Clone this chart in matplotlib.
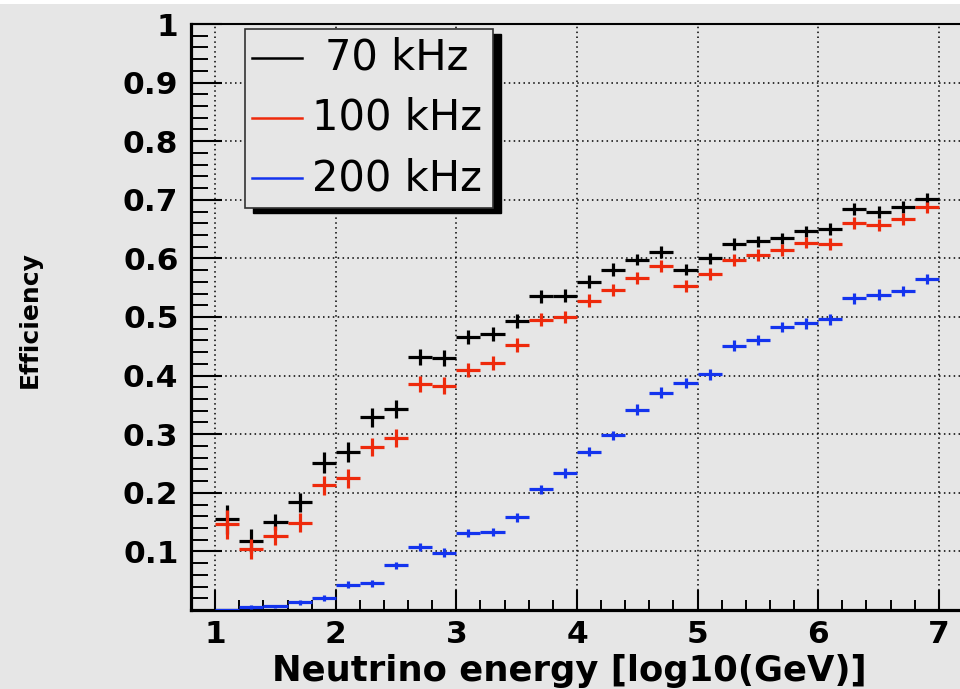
import numpy as np
import matplotlib
matplotlib.use("Agg")
import matplotlib.pyplot as plt
from matplotlib.patches import Rectangle
from matplotlib.lines import Line2D

# bin centres in log10(E/GeV), bins are 0.2 wide
energy = np.arange(1.1, 7.0, 0.2)
bin_half = 0.1

eff_70 = [0.155, 0.118, 0.150, 0.184, 0.251, 0.270, 0.329, 0.343, 0.432, 0.430,
          0.466, 0.471, 0.493, 0.535, 0.536, 0.560, 0.581, 0.598, 0.611, 0.581,
          0.600, 0.625, 0.629, 0.634, 0.646, 0.650, 0.684, 0.679, 0.688, 0.701]
err_70 = [0.025, 0.020, 0.014, 0.016, 0.018, 0.017, 0.016, 0.016, 0.014, 0.014,
          0.012, 0.012, 0.012, 0.011, 0.011, 0.011, 0.011, 0.010, 0.010, 0.010,
          0.010, 0.010, 0.010, 0.010, 0.010, 0.010, 0.010, 0.010, 0.010, 0.010]

eff_100 = [0.146, 0.104, 0.127, 0.149, 0.213, 0.225, 0.278, 0.294, 0.386, 0.383,
           0.410, 0.421, 0.452, 0.495, 0.500, 0.528, 0.546, 0.567, 0.587, 0.553,
           0.573, 0.597, 0.606, 0.614, 0.627, 0.624, 0.660, 0.657, 0.667, 0.687]
err_100 = [0.024, 0.017, 0.016, 0.016, 0.016, 0.016, 0.015, 0.015, 0.014, 0.014,
           0.012, 0.012, 0.012, 0.011, 0.011, 0.011, 0.011, 0.010, 0.010, 0.010,
           0.010, 0.010, 0.010, 0.010, 0.010, 0.010, 0.010, 0.010, 0.010, 0.010]

eff_200 = [0.000, 0.005, 0.006, 0.013, 0.020, 0.043, 0.046, 0.076, 0.108, 0.098,
           0.131, 0.133, 0.158, 0.206, 0.234, 0.270, 0.298, 0.342, 0.371, 0.387,
           0.402, 0.451, 0.461, 0.483, 0.489, 0.496, 0.532, 0.538, 0.544, 0.565]
err_200 = [0.000, 0.003, 0.003, 0.004, 0.005, 0.006, 0.006, 0.006, 0.007, 0.007,
           0.007, 0.007, 0.007, 0.008, 0.008, 0.008, 0.008, 0.009, 0.009, 0.009,
           0.009, 0.009, 0.009, 0.009, 0.009, 0.009, 0.009, 0.009, 0.009, 0.009]

series = [("70 kHz", eff_70, err_70, "black"),
          ("100 kHz", eff_100, err_100, "#ee2a0c"),
          ("200 kHz", eff_200, err_200, "#1434ee")]

bg = "#e6e6e6"
W, H = 960, 689


def fig_xy(px, py):
    # pixel position (from top left) -> figure fraction
    return px / W, 1 - py / H


fig = plt.figure(figsize=(9.6, 6.89), dpi=100, facecolor=bg)
ax = fig.add_axes([191 / W, 79 / H, (963 - 191) / W, 586 / H])
ax.set_facecolor(bg)

for label, eff, err, color in series:
    ax.errorbar(energy, eff, xerr=bin_half, yerr=err, fmt="none",
                ecolor=color, elinewidth=2.3, capsize=0, zorder=3)

ax.set_xlim(0.8, 7.2)
ax.set_ylim(0, 1)
ax.set_xticks(np.arange(1, 8, 1))
ax.set_xticks(np.arange(0.8, 7.21, 0.2), minor=True)
ax.set_yticks(np.arange(0.1, 1.01, 0.1))
ax.set_yticks(np.arange(0.0, 1.001, 0.02), minor=True)
ax.set_xticklabels([str(i) for i in range(1, 8)])
ax.set_yticklabels(["0.1", "0.2", "0.3", "0.4", "0.5", "0.6", "0.7", "0.8", "0.9", "1"])

ax.tick_params(axis="both", which="both", direction="in", color="black",
               top=False, right=False)
ax.tick_params(axis="x", which="major", length=14.5, width=1.5, pad=7)
ax.tick_params(axis="x", which="minor", length=7.2, width=1.4)
ax.tick_params(axis="y", which="major", length=22, width=1.5, pad=9)
ax.tick_params(axis="y", which="minor", length=12, width=1.4)
for lab in ax.get_xticklabels() + ax.get_yticklabels():
    lab.set_fontsize(22.5)
    lab.set_fontweight("bold")

ax.grid(True, which="major", color="black", linestyle=(0, (1, 2.2)), linewidth=1.1)
ax.set_axisbelow(True)

for side in ["left", "bottom"]:
    ax.spines[side].set_linewidth(2.3)
ax.spines["top"].set_linewidth(1.5)
ax.spines["right"].set_visible(False)

# axis titles
fig.text(*fig_xy(569, 671), "Neutrino energy [log10(GeV)]", fontsize=25.5,
         fontweight="bold", ha="center", va="center")
fig.text(*fig_xy(30, 320), "Efficiency", fontsize=18, fontweight="bold",
         rotation=90, ha="center", va="center")

# legend box with drop shadow
x0, y0 = fig_xy(245, 208)
x1, y1 = fig_xy(493, 29)
sx, sy = 8 / W, -5 / H
fig.add_artist(Rectangle((x0 + sx, y0 + sy), x1 - x0, y1 - y0,
                         transform=fig.transFigure, facecolor="black",
                         edgecolor="black", zorder=10))
fig.add_artist(Rectangle((x0, y0), x1 - x0, y1 - y0, transform=fig.transFigure,
                         facecolor=bg, edgecolor="#333333", linewidth=1.2, zorder=11))
for (label, eff, err, color), row_y in zip(series, [58, 118, 178]):
    lx0, ly = fig_xy(252, row_y)
    lx1, _ = fig_xy(302, row_y)
    fig.add_artist(Line2D([lx0, lx1], [ly, ly], transform=fig.transFigure,
                          color=color, linewidth=1.8, zorder=12))
    fig.text(*fig_xy(397, row_y), label, fontsize=30, ha="center",
             va="center", zorder=12)

# white strip along the top edge
fig.add_artist(Rectangle((0, 1 - 4 / H), 1, 4 / H, transform=fig.transFigure,
                         facecolor="white", edgecolor="none", zorder=20))

fig.savefig("out.png", dpi=100, facecolor=bg)
